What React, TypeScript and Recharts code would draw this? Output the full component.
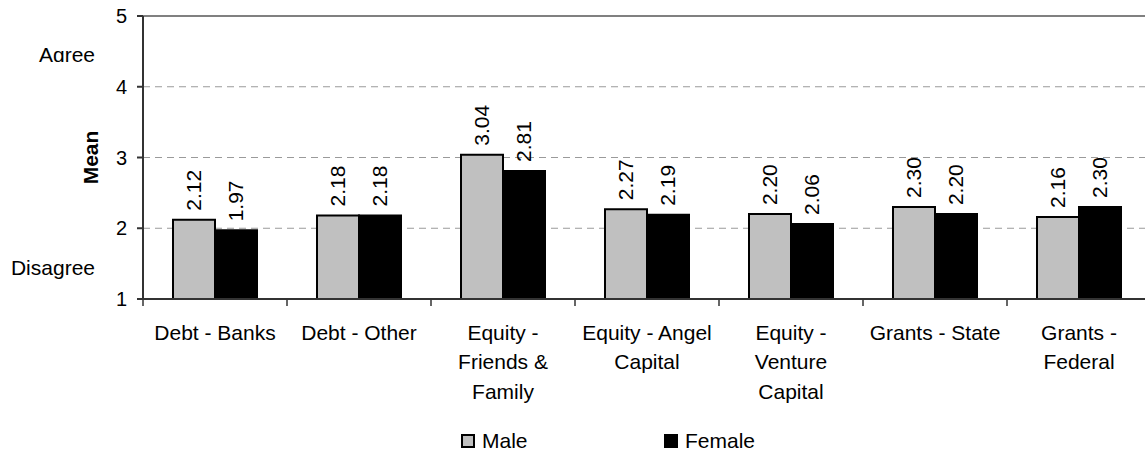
import {
  BarChart,
  Bar,
  XAxis,
  YAxis,
  CartesianGrid,
  Legend,
  LabelList,
  ReferenceLine,
} from "recharts";

const categories = [
  "Debt - Banks",
  "Debt - Other",
  "Equity -\nFriends &\nFamily",
  "Equity - Angel\nCapital",
  "Equity -\nVenture\nCapital",
  "Grants - State",
  "Grants -\nFederal",
];
const maleMeans = [2.12, 2.18, 3.04, 2.27, 2.2, 2.3, 2.16];
const femaleMeans = [1.97, 2.18, 2.81, 2.19, 2.06, 2.2, 2.3];
const seriesNames = ["Male", "Female"];
const yTicks = [1, 2, 3, 4, 5];

const FONT = "'Liberation Sans', Arial, Helvetica, sans-serif";
const AXIS = "#333";

const data = categories.map((name, i) => ({
  name,
  male: maleMeans[i],
  female: femaleMeans[i],
}));

// category label, plus the boundary tick Excel puts between categories
function CategoryTick(props: any) {
  const { x, y, payload } = props;
  const half = payload.offset ?? 72;
  const lines = String(payload.value).split("\n");
  return (
    <g>
      <line x1={x - half} x2={x - half} y1={y} y2={y + 7} stroke={AXIS} strokeWidth={1.5} />
      {lines.map((t, i) => (
        <text key={i} x={x} y={y + 40.5 + i * 29.6} textAnchor="middle" fontSize={21} fill="#000">
          {t}
        </text>
      ))}
    </g>
  );
}

function ValueLabel(props: any) {
  const { x, y, width, value } = props;
  const cx = x + width / 2;
  const cy = y - 9;
  return (
    <text
      x={cx}
      y={cy}
      transform={`rotate(-90, ${cx}, ${cy})`}
      textAnchor="start"
      dominantBaseline="central"
      fontSize={21}
      fill="#000"
    >
      {Number(value).toFixed(2)}
    </text>
  );
}

function AxisTitles({ viewBox }: any) {
  const { x, y, height } = viewBox;
  const my = y + height / 2;
  return (
    <g fontSize={21} fill="#000">
      <defs>
        <clipPath id="agree-clip">
          <rect x={x} y={0} width={143} height={y + 46} />
        </clipPath>
      </defs>
      <text x={x + 95} y={y + 45.5} textAnchor="end" clipPath="url(#agree-clip)">
        Agree
      </text>
      <text x={x + 95} y={y + 259} textAnchor="end">Disagree</text>
      <text
        x={x + 90}
        y={my}
        transform={`rotate(-90, ${x + 90}, ${my})`}
        textAnchor="middle"
        dominantBaseline="central"
        fontWeight="bold"
      >
        Mean
      </text>
    </g>
  );
}

const legendLeft = [461, 664];

function LegendBox({ payload }: any) {
  const items = [...(payload || [])].sort(
    (a: any, b: any) => seriesNames.indexOf(a.value) - seriesNames.indexOf(b.value)
  );
  return (
    <div style={{ position: "relative", height: 30, width: 1160 }}>
      {items.map((p: any, i: number) => (
        <div
          key={p.value}
          style={{
            position: "absolute",
            left: legendLeft[i],
            top: 3,
            display: "flex",
            alignItems: "center",
            fontFamily: FONT,
            fontSize: 21,
            color: "#000",
          }}
        >
          <span
            style={{
              boxSizing: "border-box",
              width: 14,
              height: 14,
              background: p.color,
              border: "2px solid #000",
              display: "inline-block",
            }}
          />
          <span style={{ marginLeft: 7 }}>{p.value}</span>
        </div>
      ))}
    </div>
  );
}

export default function App() {
  return (
    <div
      style={{
        position: "absolute",
        left: 0,
        top: 0,
        width: 1145,
        height: 456,
        overflow: "hidden",
        background: "#fff",
        fontFamily: FONT,
      }}
    >
      <BarChart
        width={1160}
        height={456}
        data={data}
        margin={{ top: 16, right: 9, bottom: 0, left: 0 }}
        barCategoryGap={30}
        barGap={0}
        style={{ fontFamily: FONT }}
      >
        <CartesianGrid vertical={false} stroke="#9a9a9a" strokeDasharray="7 5" />
        <ReferenceLine y={5} stroke="#808080" strokeWidth={2} />
        <XAxis
          dataKey="name"
          height={127}
          interval={0}
          tickLine={false}
          tickSize={0}
          tickMargin={0}
          stroke={AXIS}
          strokeWidth={2}
          tick={<CategoryTick />}
        />
        <YAxis
          width={143}
          domain={[1, 5]}
          ticks={yTicks}
          type="number"
          allowDataOverflow
          stroke={AXIS}
          strokeWidth={2}
          tickSize={6}
          tickMargin={10}
          tick={{ fontSize: 20, fill: "#000" }}
          label={AxisTitles}
        />
        <Legend
          verticalAlign="bottom"
          content={<LegendBox />}
          wrapperStyle={{ left: 0, bottom: 0, width: 1160, height: 30 }}
        />
        <Bar dataKey="male" name={seriesNames[0]} fill="#c0c0c0" stroke="#000" strokeWidth={2} isAnimationActive={false}>
          <LabelList dataKey="male" content={<ValueLabel />} />
        </Bar>
        <Bar dataKey="female" name={seriesNames[1]} fill="#000" stroke="#000" strokeWidth={2} isAnimationActive={false}>
          <LabelList dataKey="female" content={<ValueLabel />} />
        </Bar>
      </BarChart>
    </div>
  );
}
